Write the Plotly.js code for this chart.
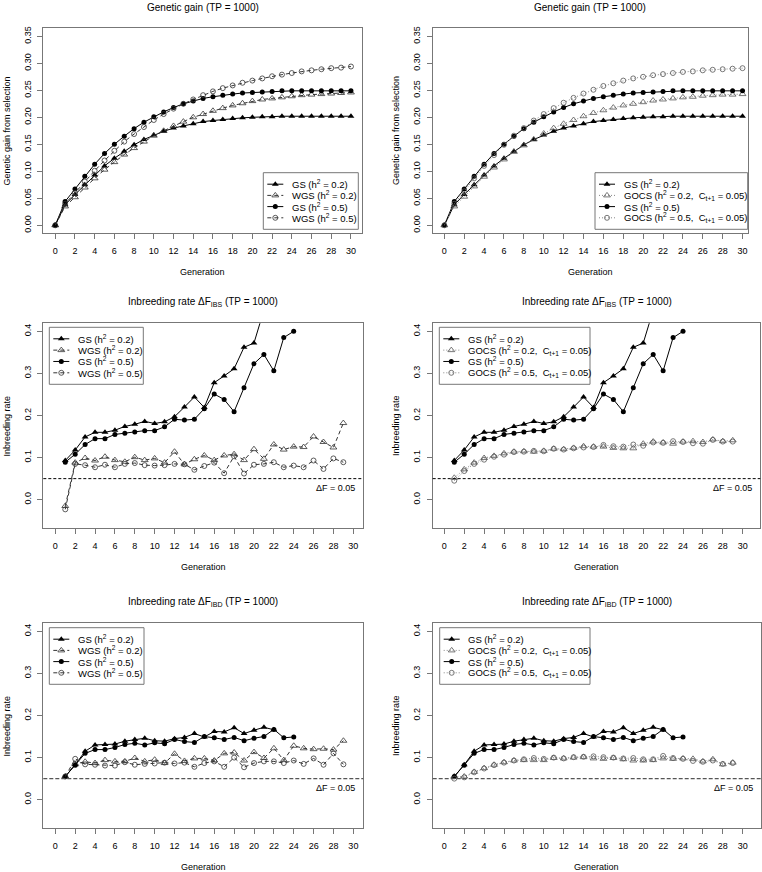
<!DOCTYPE html>
<html>
<head>
<meta charset="utf-8">
<script src="https://cdn.plot.ly/plotly-3.0.1.min.js"></script>
<style>
  html, body { margin: 0; padding: 0; background: #fff; }
  #chart { width: 762px; height: 872px; }
</style>
</head>
<body>
<div id="chart"></div>
<script>
// Genetic gain and inbreeding rate, TP = 1000 (six panels, R-style)

const generations = [0, 1, 2, 3, 4, 5, 6, 7, 8, 9, 10, 11, 12, 13, 14, 15,
    16, 17, 18, 19, 20, 21, 22, 23, 24, 25, 26, 27, 28, 29, 30];
const xTicks = [0, 2, 4, 6, 8, 10, 12, 14, 16, 18, 20, 22, 24, 26, 28, 30];
const deltaF = 0.05;

// genetic gain, generations 0..30
const gsGain02 = [0, 0.038, 0.057, 0.075, 0.093, 0.110, 0.124, 0.137, 0.149, 0.159, 0.167,
    0.174, 0.180, 0.184, 0.188, 0.192, 0.194, 0.196, 0.198, 0.199, 0.200,
    0.201, 0.201, 0.202, 0.202, 0.202, 0.202, 0.202, 0.202, 0.202, 0.202];
const gsGain05 = [0, 0.044, 0.067, 0.091, 0.113, 0.133, 0.150, 0.165, 0.179, 0.191, 0.201,
    0.210, 0.218, 0.225, 0.230, 0.235, 0.238, 0.241, 0.243, 0.245, 0.246,
    0.247, 0.248, 0.249, 0.249, 0.249, 0.249, 0.249, 0.249, 0.249, 0.249];
const wgsGain02 = [0, 0.035, 0.052, 0.070, 0.087, 0.103, 0.117, 0.131, 0.143, 0.155, 0.166,
    0.175, 0.184, 0.192, 0.200, 0.206, 0.212, 0.217, 0.222, 0.226, 0.230,
    0.233, 0.235, 0.237, 0.239, 0.241, 0.242, 0.243, 0.244, 0.245, 0.246];
const wgsGain05 = [0, 0.040, 0.060, 0.081, 0.101, 0.120, 0.138, 0.155, 0.169, 0.182, 0.195,
    0.206, 0.216, 0.225, 0.233, 0.241, 0.248, 0.254, 0.259, 0.264, 0.268,
    0.272, 0.276, 0.279, 0.282, 0.285, 0.287, 0.289, 0.291, 0.292, 0.294];
const gocsGain02 = [0, 0.035, 0.053, 0.072, 0.090, 0.107, 0.122, 0.136, 0.148, 0.159, 0.170,
    0.180, 0.188, 0.195, 0.202, 0.208, 0.213, 0.218, 0.222, 0.225, 0.228,
    0.231, 0.233, 0.235, 0.237, 0.238, 0.240, 0.241, 0.242, 0.242, 0.243];
const gocsGain05 = [0, 0.040, 0.063, 0.087, 0.110, 0.130, 0.149, 0.166, 0.180, 0.194, 0.206,
    0.217, 0.227, 0.236, 0.244, 0.251, 0.258, 0.263, 0.268, 0.272, 0.275,
    0.278, 0.280, 0.282, 0.284, 0.285, 0.287, 0.288, 0.289, 0.290, 0.291];

// inbreeding rate dF_IBS, from generation 1
const gsIbs02 = [0.093, 0.118, 0.149, 0.160, 0.160, 0.165, 0.174, 0.179, 0.186, 0.181,
    0.185, 0.197, 0.220, 0.244, 0.219, 0.278, 0.294, 0.311, 0.362, 0.372, 0.450];
const gsIbs05 = [0.089, 0.108, 0.131, 0.145, 0.145, 0.155, 0.158, 0.161, 0.164, 0.164,
    0.173, 0.191, 0.189, 0.191, 0.216, 0.251, 0.238, 0.209, 0.266, 0.323,
    0.345, 0.306, 0.385, 0.400];
const wgsIbs02 = [-0.015, 0.088, 0.099, 0.093, 0.102, 0.094, 0.090, 0.101, 0.094, 0.098,
    0.088, 0.114, 0.084, 0.096, 0.105, 0.094, 0.105, 0.108, 0.094, 0.120,
    0.097, 0.131, 0.119, 0.126, 0.125, 0.150, 0.137, 0.124, 0.182];
const wgsIbs05 = [-0.023, 0.085, 0.082, 0.077, 0.083, 0.077, 0.085, 0.087, 0.082, 0.081,
    0.082, 0.085, 0.084, 0.071, 0.080, 0.088, 0.063, 0.103, 0.062, 0.083,
    0.085, 0.089, 0.077, 0.081, 0.077, 0.093, 0.073, 0.098, 0.089];
const gocsIbs02 = [0.052, 0.072, 0.088, 0.099, 0.104, 0.110, 0.114, 0.115, 0.114, 0.116,
    0.121, 0.120, 0.123, 0.127, 0.126, 0.126, 0.123, 0.122, 0.122, 0.133,
    0.138, 0.136, 0.133, 0.138, 0.139, 0.137, 0.143, 0.139, 0.141];
const gocsIbs05 = [0.045, 0.068, 0.085, 0.095, 0.102, 0.107, 0.113, 0.114, 0.116, 0.115,
    0.121, 0.119, 0.122, 0.124, 0.125, 0.130, 0.127, 0.126, 0.131, 0.128,
    0.136, 0.135, 0.139, 0.137, 0.134, 0.133, 0.142, 0.138, 0.138];

// inbreeding rate dF_IBD, from generation 1
const gsIbd02 = [0.055, 0.083, 0.115, 0.130, 0.131, 0.132, 0.139, 0.143, 0.146, 0.140,
    0.139, 0.145, 0.148, 0.157, 0.149, 0.162, 0.161, 0.171, 0.157, 0.165,
    0.172, 0.166];
const gsIbd05 = [0.055, 0.082, 0.110, 0.119, 0.119, 0.124, 0.131, 0.134, 0.130, 0.135,
    0.133, 0.143, 0.138, 0.136, 0.150, 0.147, 0.143, 0.148, 0.140, 0.146,
    0.150, 0.167, 0.147, 0.149];
const wgsIbd02 = [0.055, 0.085, 0.090, 0.087, 0.094, 0.091, 0.091, 0.099, 0.091, 0.095,
    0.087, 0.109, 0.092, 0.098, 0.098, 0.093, 0.110, 0.112, 0.093, 0.113,
    0.099, 0.122, 0.094, 0.128, 0.122, 0.120, 0.121, 0.119, 0.140];
const wgsIbd05 = [0.055, 0.097, 0.084, 0.083, 0.081, 0.081, 0.089, 0.083, 0.085, 0.086,
    0.088, 0.086, 0.088, 0.078, 0.087, 0.091, 0.078, 0.100, 0.077, 0.087,
    0.091, 0.091, 0.087, 0.093, 0.085, 0.098, 0.083, 0.110, 0.084];
const gocsIbd02 = [0.055, 0.055, 0.066, 0.075, 0.083, 0.089, 0.093, 0.094, 0.094, 0.094,
    0.099, 0.098, 0.100, 0.101, 0.098, 0.097, 0.099, 0.096, 0.093, 0.093,
    0.094, 0.098, 0.097, 0.098, 0.097, 0.091, 0.096, 0.084, 0.088];
const gocsIbd05 = [0.050, 0.053, 0.065, 0.074, 0.082, 0.088, 0.093, 0.096, 0.099, 0.097,
    0.100, 0.098, 0.101, 0.102, 0.103, 0.101, 0.100, 0.098, 0.099, 0.096,
    0.096, 0.104, 0.099, 0.097, 0.092, 0.090, 0.093, 0.085, 0.087];

const names = {
    gs02: 'GS (h<sup>2</sup> = 0.2)',
    gs05: 'GS (h<sup>2</sup> = 0.5)',
    wgs02: 'WGS (h<sup>2</sup> = 0.2)',
    wgs05: 'WGS (h<sup>2</sup> = 0.5)',
    gocs02: 'GOCS (h<sup>2</sup> = 0.2,\u00a0 C<sub>t+1</sub> = 0.05)',
    gocs05: 'GOCS (h<sup>2</sup> = 0.5,\u00a0 C<sub>t+1</sub> = 0.05)'
};

const W = 762, H = 872;
const FONT = 'Liberation Sans, Arial, sans-serif';
const BOXCOL = '#777';

// line/marker styles, R type="o"
const styles = {
    gs02: { line: { color: '#000', width: 1 }, marker: { symbol: 'triangle-up', size: 6, color: '#000' } },
    gs05: { line: { color: '#000', width: 1 }, marker: { symbol: 'circle', size: 5, color: '#000' } },
    wgs02: { line: { color: '#333', width: 1, dash: '4px,3px' }, marker: { symbol: 'triangle-up-open', size: 6, color: '#333', line: { width: 0.8 } } },
    wgs05: { line: { color: '#333', width: 1, dash: '4px,3px' }, marker: { symbol: 'circle-open', size: 5, color: '#333', line: { width: 0.8 } } },
    gocs02: { line: { color: '#888', width: 1, dash: '1px,2px' }, marker: { symbol: 'triangle-up-open', size: 6, color: '#555', line: { width: 0.8 } } },
    gocs05: { line: { color: '#888', width: 1, dash: '1px,2px' }, marker: { symbol: 'circle-open', size: 5, color: '#555', line: { width: 0.8 } } }
};

// panel boxes in pixels: [left, right, top, bottom]; legend boxes the same way
const panels = [
    { box: [43.3, 361.7, 28.3, 233.3], xr: [-1.21, 31.09], kind: 'gain',
      title: 'Genetic gain (TP = 1000)',
      series: [['gs02', gsGain02], ['wgs02', wgsGain02], ['gs05', gsGain05], ['wgs05', wgsGain05]],
      legendBox: [263.3, 358.3, 172.7, 229.3] },
    { box: [432.7, 747.7, 28.3, 233.3], xr: [-1.17, 30.52], kind: 'gain',
      title: 'Genetic gain (TP = 1000)',
      series: [['gs02', gsGain02], ['gocs02', gocsGain02], ['gs05', gsGain05], ['gocs05', gocsGain05]],
      legendBox: [595, 747.7, 172.7, 229.3] },
    { box: [43.3, 362.7, 323.3, 528.3], xr: [-1.21, 30.95], kind: 'ibs',
      title: 'Inbreeding rate \u0394F<sub>IBS</sub> (TP = 1000)',
      series: [['gs02', gsIbs02], ['wgs02', wgsIbs02], ['gs05', gsIbs05], ['wgs05', wgsIbs05]],
      legendBox: [49.3, 143.3, 327.3, 384.3] },
    { box: [432.7, 760.3, 323.3, 528.3], xr: [-1.17, 31.77], kind: 'ibs',
      title: 'Inbreeding rate \u0394F<sub>IBS</sub> (TP = 1000)',
      series: [['gs02', gsIbs02], ['gocs02', gocsIbs02], ['gs05', gsIbs05], ['gocs05', gocsIbs05]],
      legendBox: [439.3, 590, 327.3, 384.3] },
    { box: [43.3, 363.3, 623.3, 828.3], xr: [-1.21, 31.0], kind: 'ibd',
      title: 'Inbreeding rate \u0394F<sub>IBD</sub> (TP = 1000)',
      series: [['gs02', gsIbd02], ['wgs02', wgsIbd02], ['gs05', gsIbd05], ['wgs05', wgsIbd05]],
      legendBox: [49.3, 144, 627.7, 684.3] },
    { box: [432.7, 761, 623.3, 828.3], xr: [-1.17, 31.84], kind: 'ibd',
      title: 'Inbreeding rate \u0394F<sub>IBD</sub> (TP = 1000)',
      series: [['gs02', gsIbd02], ['gocs02', gocsIbd02], ['gs05', gsIbd05], ['gocs05', gocsIbd05]],
      legendBox: [439.7, 590, 627.7, 684.3] }
];

const traces = [];
const layout = {
    width: W, height: H,
    margin: { l: 0, r: 0, t: 0, b: 0 },
    paper_bgcolor: '#fff', plot_bgcolor: 'rgba(0,0,0,0)',
    font: { family: FONT, size: 9, color: '#000' },
    showlegend: false,
    annotations: [],
    shapes: []
};

// legend key markers live on a full-page pixel overlay
const keyPts = {};
Object.keys(styles).forEach(k => { keyPts[k] = { x: [], y: [] }; });

panels.forEach((p, i) => {
    const n = i + 1;
    const xa = n === 1 ? 'x' : 'x' + n;
    const ya = n === 1 ? 'y' : 'y' + n;
    const [x0, x1, y0, y1] = p.box;
    const isGain = p.kind === 'gain';

    p.series.forEach(([key, vals]) => {
        const xs = isGain ? generations.slice(0, vals.length) : generations.slice(1, vals.length + 1);
        traces.push(Object.assign({
            type: 'scatter', mode: 'lines+markers',
            x: xs, y: vals, xaxis: xa, yaxis: ya,
            name: names[key], hoverinfo: 'skip', cliponaxis: true
        }, styles[key]));
    });

    const axisCommon = {
        showline: true, mirror: true, linecolor: BOXCOL, linewidth: 1,
        showgrid: false, zeroline: false, ticks: 'outside', ticklen: 5,
        tickcolor: BOXCOL, tickfont: { size: 9, color: '#000' }, fixedrange: true
    };
    layout[n === 1 ? 'xaxis' : 'xaxis' + n] = Object.assign({}, axisCommon, {
        domain: [x0 / W, x1 / W], anchor: ya, range: p.xr,
        tickmode: 'array', tickvals: xTicks, ticklabelstandoff: 4
    });
    layout[n === 1 ? 'yaxis' : 'yaxis' + n] = Object.assign({}, axisCommon, {
        domain: [1 - y1 / H, 1 - y0 / H], anchor: xa,
        range: isGain ? [-0.0148, 0.3648] : [-0.068, 0.419],
        tick0: 0, dtick: isGain ? 0.05 : 0.1, tickformat: isGain ? '.2f' : '.1f',
        tickangle: -90, ticklabelstandoff: 3
    });

    // R-style legend box
    const [lx0, lx1, ly0, ly1] = p.legendBox;
    layout.shapes.push({
        type: 'rect', xref: 'paper', yref: 'paper', layer: 'above',
        x0: lx0 / W, x1: lx1 / W, y0: 1 - ly0 / H, y1: 1 - ly1 / H,
        line: { color: BOXCOL, width: 1 }, fillcolor: 'rgba(0,0,0,0)'
    });
    const step = (ly1 - ly0 - 23) / 3;
    p.series.forEach(([key], k) => {
        const iy = ly0 + 11.5 + k * step;
        const st = styles[key];
        layout.shapes.push({
            type: 'line', xref: 'paper', yref: 'paper', layer: 'above',
            x0: (lx0 + 4) / W, x1: (lx0 + 20) / W, y0: 1 - iy / H, y1: 1 - iy / H,
            line: { color: st.line.color, width: 1, dash: st.line.dash || 'solid' }
        });
        keyPts[key].x.push(lx0 + 12);
        keyPts[key].y.push(iy);
        layout.annotations.push({
            xref: 'paper', yref: 'paper', x: (lx0 + 26.5) / W, y: 1 - iy / H,
            text: names[key], showarrow: false, xanchor: 'left', yanchor: 'middle',
            font: { size: 9.5, color: '#000' }
        });
    });

    const cx = (x0 + x1) / 2;
    // panel title
    layout.annotations.push({
        xref: 'paper', yref: 'paper', x: cx / W, y: 1 - (y0 - 21) / H,
        text: p.title, showarrow: false, xanchor: 'center', yanchor: 'middle',
        font: { size: 10, color: '#000' }
    });
    // x axis title
    layout.annotations.push({
        xref: 'paper', yref: 'paper', x: cx / W, y: 1 - (y1 + 39) / H,
        text: 'Generation', showarrow: false, xanchor: 'center', yanchor: 'middle',
        font: { size: 9, color: '#000' }
    });
    // y axis title
    layout.annotations.push({
        xref: 'paper', yref: 'paper', x: (x0 - 36.5) / W, y: 1 - (y0 + y1) / 2 / H,
        text: isGain ? 'Genetic gain from selection' : 'Inbreeding rate',
        showarrow: false, textangle: -90, xanchor: 'center', yanchor: 'middle',
        font: { size: 9, color: '#000' }
    });

    if (!isGain) {
        const ibd = p.kind === 'ibd';
        layout.shapes.push({
            type: 'line', xref: xa + ' domain', yref: ya, x0: 0, x1: 1, y0: deltaF, y1: deltaF,
            line: ibd ? { color: '#555', width: 1.3, dash: '4px,2px' }
                      : { color: '#000', width: 1, dash: '3px,2px' }
        });
        layout.annotations.push({
            xref: xa + ' domain', yref: ya, x: 1 - 6 / (x1 - x0), y: deltaF,
            text: '\u0394F = ' + deltaF.toFixed(2), showarrow: false,
            xanchor: 'right', yanchor: 'top', yshift: -2,
            font: { size: 9, color: '#000' }
        });
    }
});

// overlay axes in page pixels for the legend keys
layout.xaxis7 = { domain: [0, 1], range: [0, W], visible: false, anchor: 'y7', fixedrange: true };
layout.yaxis7 = { domain: [0, 1], range: [H, 0], visible: false, anchor: 'x7', fixedrange: true };
Object.keys(keyPts).forEach(k => {
    if (!keyPts[k].x.length) return;
    traces.push({
        type: 'scatter', mode: 'markers', x: keyPts[k].x, y: keyPts[k].y,
        xaxis: 'x7', yaxis: 'y7', marker: styles[k].marker,
        hoverinfo: 'skip', showlegend: false, cliponaxis: false
    });
});

Plotly.newPlot('chart', traces, layout, { displayModeBar: false, staticPlot: true });
</script>
</body>
</html>
